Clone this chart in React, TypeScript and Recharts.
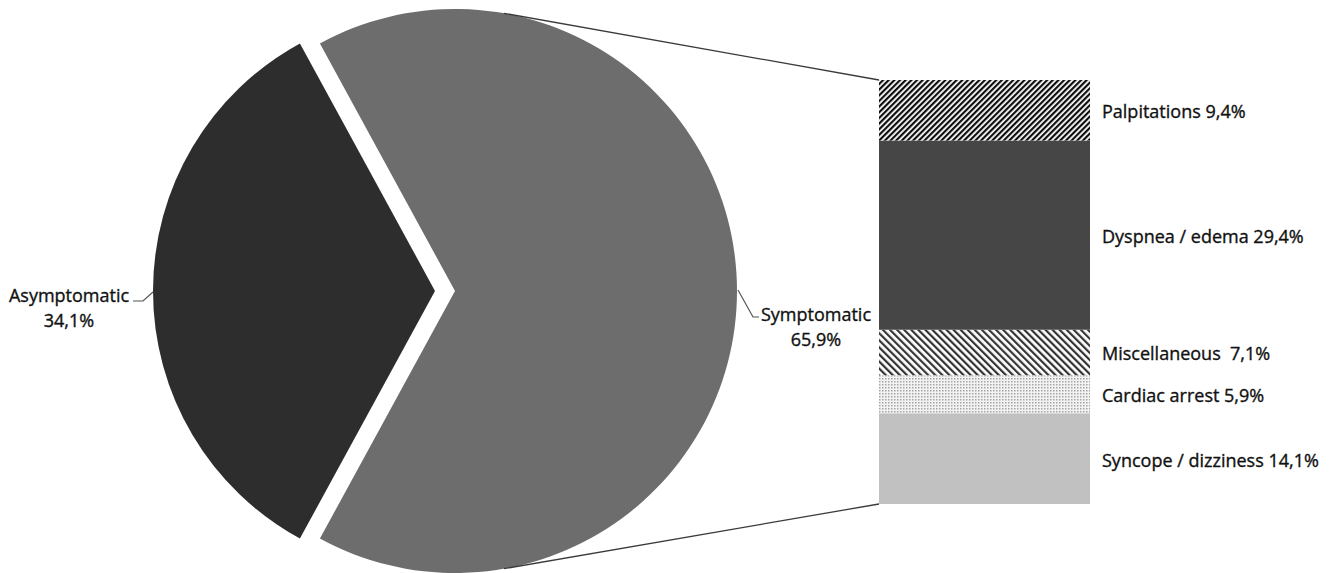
import React from 'react';
import { PieChart, Pie, Cell, BarChart, Bar, XAxis, YAxis, LabelList } from 'recharts';

const W = 1339;
const H = 573;
const FONT = '"Open Sans", "Noto Sans", sans-serif';
const TEXT_SIZE = 18;

// Main pie: symptomatic vs asymptomatic
const pieNames = ['Symptomatic', 'Asymptomatic'];
const pieValues = [65.9, 34.1];
const pieLabels = ['65,9%', '34,1%'];
const pieColors = ['#6d6d6d', '#2d2d2d'];

// Breakdown of the symptomatic share (stacked bottom to top)
const barNames = ['Syncope / dizziness', 'Cardiac arrest', 'Miscellaneous ', 'Dyspnea / edema', 'Palpitations'];
const barValues = [14.1, 5.9, 7.1, 29.4, 9.4];
const barLabels = ['14,1%', '5,9%', '7,1%', '29,4%', '9,4%'];
const barFills = ['#c1c1c1', 'url(#dots)', 'url(#hatchDown)', '#464646', 'url(#hatchUp)'];

// Layout
const PIE_CX = 455;
const PIE_CY = 291;
const PIE_R = 282;
const EXPLODE = 20;
const BAR_LEFT = 879;
const BAR_RIGHT = 1090;
const BAR_TOP = 80;
const BAR_BOTTOM = 504;
const CONNECTOR_ANGLE = 80;

const pieData = pieNames.map((name, i) => ({ name, value: pieValues[i], label: pieLabels[i] }));
const pieTotal = pieValues.reduce((a, b) => a + b, 0);
const START_ANGLE = -((pieValues[0] / pieTotal) * 360) / 2;

const barTotal = barValues.reduce((a, b) => a + b, 0);
const barRow: Record<string, number | string> = { name: pieNames[0] };
barValues.forEach((v, i) => {
  barRow[`s${i}`] = v;
});
const barData = [barRow];

const textProps = {
  fontFamily: FONT,
  fontSize: TEXT_SIZE,
  fill: '#111',
  stroke: '#111',
  strokeWidth: 0.35,
};

const renderPieLabel = (visibleIndex: number) => (props: any) => {
  const { cx, cy, outerRadius, index, payload } = props;
  if (index !== visibleIndex) return null;
  const name = payload?.name ?? pieNames[index];
  const pct = payload?.label ?? pieLabels[index];
  if (index === 0) {
    const ex = cx + outerRadius;
    const ey = cy;
    return (
      <g>
        <polyline
          points={`${ex + 1},${ey - 1} ${ex + 16},${ey + 26} ${ex + 22},${ey + 26}`}
          fill="none"
          stroke="#555"
          strokeWidth={1.2}
        />
        <text x={ex + 79} y={ey + 23} textAnchor="middle" dominantBaseline="central" {...textProps}>
          {name}
        </text>
        <text x={ex + 79} y={ey + 48} textAnchor="middle" dominantBaseline="central" {...textProps}>
          {pct}
        </text>
      </g>
    );
  }
  const ex = cx - outerRadius;
  const ey = cy;
  return (
    <g>
      <polyline
        points={`${ex},${ey + 1} ${ex - 10},${ey + 10} ${ex - 20},${ey + 10}`}
        fill="none"
        stroke="#555"
        strokeWidth={1.2}
      />
      <text x={ex - 84} y={ey + 4} textAnchor="middle" dominantBaseline="central" {...textProps}>
        {name}
      </text>
      <text x={ex - 84} y={ey + 29} textAnchor="middle" dominantBaseline="central" {...textProps}>
        {pct}
      </text>
    </g>
  );
};

const segmentLabel = (i: number) => (props: any) => {
  const { x, y, width, height } = props;
  const tx = Number(x) + Number(width) + 12;
  const ty = Number(y) + Number(height) / 2 + 1;
  return (
    <text x={tx} y={ty} dominantBaseline="central" {...textProps} style={{ whiteSpace: 'pre' }}>
      {`${barNames[i]} ${barLabels[i]}`}
    </text>
  );
};

const sx = (deg: number) => PIE_CX + PIE_R * Math.cos((deg * Math.PI) / 180);
const sy = (deg: number) => PIE_CY - PIE_R * Math.sin((deg * Math.PI) / 180);

export default function App() {
  return (
    <div style={{ position: 'absolute', left: 0, top: 0, width: W, height: H, background: '#fff', overflow: 'hidden' }}>
      <div style={{ position: 'absolute', left: 0, top: 0 }}>
        <PieChart width={W} height={H} margin={{ top: 0, right: 0, bottom: 0, left: 0 }}>
          <Pie
            data={pieData}
            dataKey="value"
            nameKey="name"
            cx={PIE_CX}
            cy={PIE_CY}
            outerRadius={PIE_R}
            innerRadius={0}
            startAngle={START_ANGLE}
            endAngle={START_ANGLE + 360}
            stroke="none"
            isAnimationActive={false}
            label={renderPieLabel(0)}
            labelLine={false}
          >
            {pieData.map((d, i) => (
              <Cell key={d.name} fill={i === 0 ? pieColors[i] : 'none'} />
            ))}
          </Pie>
          <Pie
            data={pieData}
            dataKey="value"
            nameKey="name"
            cx={PIE_CX - EXPLODE}
            cy={PIE_CY}
            outerRadius={PIE_R}
            innerRadius={0}
            startAngle={START_ANGLE}
            endAngle={START_ANGLE + 360}
            stroke="none"
            isAnimationActive={false}
            label={renderPieLabel(1)}
            labelLine={false}
          >
            {pieData.map((d, i) => (
              <Cell key={d.name} fill={i === 1 ? pieColors[i] : 'none'} />
            ))}
          </Pie>
        </PieChart>
      </div>
      <div style={{ position: 'absolute', left: 0, top: 0 }}>
        <BarChart
          width={W}
          height={H}
          data={barData}
          margin={{ top: BAR_TOP, bottom: H - BAR_BOTTOM, left: BAR_LEFT, right: W - BAR_RIGHT }}
          barCategoryGap={0}
        >
          <defs>
            <pattern id="hatchUp" width={4} height={4} patternUnits="userSpaceOnUse" patternTransform="rotate(45)">
              <rect width={4} height={4} fill="#fff" />
              <rect width={2.2} height={4} fill="#0e0e0e" />
            </pattern>
            <pattern id="hatchDown" width={5} height={5} patternUnits="userSpaceOnUse" patternTransform="rotate(-45)">
              <rect width={5} height={5} fill="#fff" />
              <rect width={2.2} height={5} fill="#333" />
            </pattern>
            <pattern id="dots" width={3} height={3} patternUnits="userSpaceOnUse">
              <rect width={3} height={3} fill="#f2f2f2" />
              <rect width={1.5} height={1.5} fill="#a6a6a6" />
            </pattern>
          </defs>
          <XAxis dataKey="name" hide />
          <YAxis hide domain={[0, barTotal]} />
          {barValues.map((_, i) => (
            <Bar key={i} dataKey={`s${i}`} stackId="s" fill={barFills[i]} isAnimationActive={false}>
              <LabelList dataKey={`s${i}`} content={segmentLabel(i)} />
            </Bar>
          ))}
        </BarChart>
      </div>
      <svg width={W} height={H} style={{ position: 'absolute', left: 0, top: 0, pointerEvents: 'none' }}>
        <line x1={sx(CONNECTOR_ANGLE)} y1={sy(CONNECTOR_ANGLE)} x2={BAR_LEFT} y2={BAR_TOP} stroke="#3a3a3a" strokeWidth={1.3} />
        <line x1={sx(-CONNECTOR_ANGLE)} y1={sy(-CONNECTOR_ANGLE)} x2={BAR_LEFT} y2={BAR_BOTTOM} stroke="#3a3a3a" strokeWidth={1.3} />
      </svg>
    </div>
  );
}
